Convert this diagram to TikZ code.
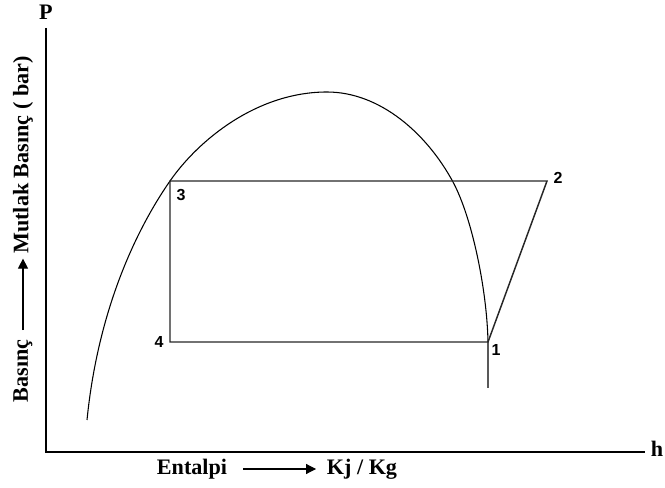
\documentclass[tikz,border=0pt]{standalone}
\usepackage{fontspec}
\setmainfont{Liberation Serif}
\setsansfont{Liberation Sans}
\usetikzlibrary{arrows.meta, positioning}

\tikzset{
  axlbl/.style={font=\fontsize{16.6}{19}\selectfont\bfseries, inner sep=0pt},
  ptlbl/.style={font=\sffamily\fontsize{12}{14}\selectfont\bfseries, inner sep=0pt},
  cycline/.style={line width=1.1pt, black!85},
  dirarr/.style={-{Triangle[length=7.5pt,width=7.5pt]}, line width=0.8pt},
}

\begin{document}
\begin{tikzpicture}[x=0.75pt, y=-0.75pt]
\useasboundingbox (0,0) rectangle (665,488);
% --- Axes ---
\coordinate (O) at (46,452);
\coordinate (ytop) at (46,28);
\coordinate (xend) at (645,452);
\draw[line width=1.1pt] (ytop) -- (O) -- (xend);
\node[axlbl] (P) at (46,12) {P};
\node[axlbl] (h) at (657,449) {h};
% --- Axis titles ---
\node[axlbl] (ent) at (192,469) {Entalpi};
\node[axlbl] (kjkg) at (362,469) {Kj / Kg};
\draw[dirarr, shorten <=12pt, shorten >=8pt] (ent) -- (kjkg);
\node[axlbl, rotate=90] (bas) at (23,371) {Basınç};
\node[axlbl, rotate=90] (mut) at (23,155) {Mutlak Basınç ( bar)};
\draw[dirarr, shorten <=7pt, shorten >=3.5pt] (bas) -- (mut);
% --- Saturation dome ---
\draw[line width=0.8pt] (87,420)
  .. controls (98,310) and (136,230) .. (170,181)
  .. controls (198.5,140) and (257,92) .. (327,92)
  .. controls (380,92) and (426.9,133.6) .. (453,182)
  .. controls (472,217.2) and (487,290) .. (488,342)
  -- (488,388);
% --- Cycle 1-2-3-4 ---
\coordinate (p1) at (488,342);
\coordinate (p2) at (547,181);
\coordinate (p3) at (170,181);
\coordinate (p4) at (170,342);
\draw[cycline] (p1) -- (p2) -- (p3) -- (p4) -- cycle;
\node[ptlbl] (n1) at (496,350) {1};
\node[ptlbl] (n2) at (558,178) {2};
\node[ptlbl] (n3) at (181,195) {3};
\node[ptlbl] (n4) at (159,342) {4};
\end{tikzpicture}
\end{document}
